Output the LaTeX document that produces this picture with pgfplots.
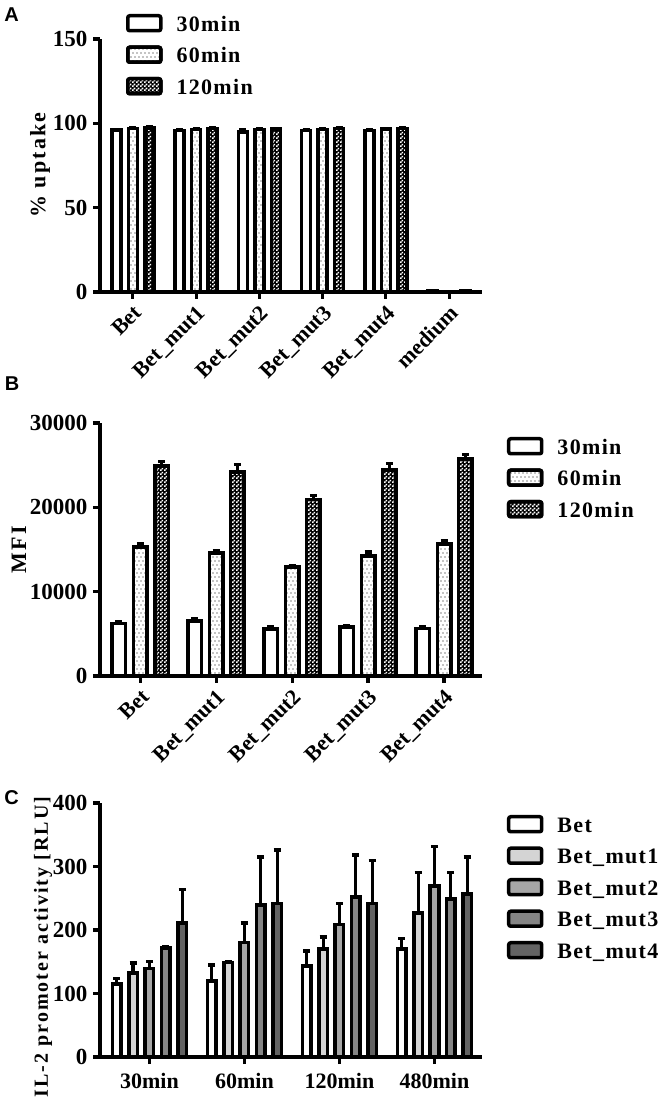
\documentclass[border=0pt]{standalone}
\usepackage{pgfplots}
\usepackage{pgfplotstable}
\pgfplotsset{compat=1.18}
\usepackage{fontspec}
\setmainfont{Liberation Serif}
\newfontfamily\lsp{Liberation Serif}[LetterSpace=6]
\newfontfamily\ylsp{Liberation Serif}[LetterSpace=10]
\newfontfamily\arialfont{Liberation Sans}
\usetikzlibrary{patterns}

\pgfdeclarepatternformonly{sparsedots}{\pgfqpoint{-1pt}{-1pt}}{\pgfqpoint{5pt}{9pt}}{\pgfqpoint{4pt}{8pt}}{%
 \pgfpathcircle{\pgfqpoint{1pt}{2pt}}{0.55pt}\pgfpathcircle{\pgfqpoint{3pt}{6pt}}{0.55pt}\pgfusepath{fill}}
\pgfdeclarepatternformonly{checker}{\pgfpointorigin}{\pgfqpoint{4pt}{4pt}}{\pgfqpoint{4pt}{4pt}}{%
 \pgfpathrectangle{\pgfpointorigin}{\pgfqpoint{2pt}{2pt}}\pgfpathrectangle{\pgfqpoint{2pt}{2pt}}{\pgfqpoint{2pt}{2pt}}\pgfusepath{fill}}

\definecolor{gA}{HTML}{D4D4D4}
\definecolor{gB}{HTML}{A6A6A6}
\definecolor{gC}{HTML}{858585}
\definecolor{gD}{HTML}{636363}

\pgfplotsset{
 panel/.style={
  scale only axis, width=382pt,
  axis lines=left, axis line style={-, line width=3.2pt},
  tick align=outside, major tick length=7pt, tick style={line width=3.2pt, black},
  ymin=0,
  yticklabel style={font=\fontsize{23}{27}\selectfont\bfseries, xshift=-2pt},
  xticklabel style={font=\fontsize{22}{26}\selectfont\bfseries},
  /pgf/number format/assume math mode=true,
  /pgf/number format/1000 sep={},
  legend cell align=left,
  legend style={draw=none, fill=none, inner sep=0pt, outer sep=0pt,
    font=\lsp\bfseries\fontsize{22}{26}\selectfont, row sep=13pt, column sep=14pt,
    nodes={inner sep=0pt, text height=16pt, text depth=0pt}},
 },
 bar/.style={ybar, bar shift=0pt, draw=black, line width=3.5pt,
  legend image code/.code={\draw[##1, line width=3.5pt, rounded corners=2pt] (0pt,-7.5pt) rectangle (33pt,7.5pt);},
  error bars/y dir=plus, error bars/y explicit,
  error bars/error bar style={line width=3.2pt, black},
  error bars/error mark options={rotate=90, mark size=3.5pt, line width=3.2pt, black}},
 dotted bar/.style={fill=white, postaction={pattern=sparsedots}},
 checker bar/.style={fill=black, postaction={pattern=checker, pattern color=white}},
}

% Panel A: % uptake
\pgfplotstableread{
x y e
0 96.0 0.4
1 95.8 0.4
2 95.0 1.0
3 95.8 0.4
4 95.8 0.4
5 0.6 0.3
}\Aa
\pgfplotstableread{
x y e
0 97.0 0.4
1 96.3 0.4
2 96.3 0.4
3 96.3 0.4
4 96.5 0.4
5 0.3 0.2
}\Ab
\pgfplotstableread{
x y e
0 97.3 0.5
1 96.8 0.5
2 96.5 0.4
3 96.8 0.4
4 96.8 0.5
5 0.5 0.3
}\Ac

% Panel B: MFI
\pgfplotstableread{
x y e
0 6200 200
1 6500 300
2 5550 250
3 5800 150
4 5650 200
}\Ba
\pgfplotstableread{
x y e
0 15300 450
1 14600 250
2 12900 150
3 14250 450
4 15650 400
}\Bb
\pgfplotstableread{
x y e
0 24900 500
1 24200 900
2 20950 500
3 24450 700
4 25750 500
}\Bc

% Panel C: IL-2 promoter activity
\pgfplotstableread{
x y e
0 115 8
1 120 25
2 143 24
3 170 16
}\Ca
\pgfplotstableread{
x y e
0 132 16
1 149 2
2 170 19
3 227 63
}\Cb
\pgfplotstableread{
x y e
0 139 11
1 180 31
2 209 33
3 269 63
}\Cc
\pgfplotstableread{
x y e
0 172 2
1 239 76
2 252 66
3 249 42
}\Cd
\pgfplotstableread{
x y e
0 211 53
1 242 84
2 242 67
3 257 58
}\Ce

\begin{document}
\begin{tikzpicture}
\useasboundingbox (0pt,0pt) rectangle (658pt,1103pt);

\node[font=\arialfont\bfseries\fontsize{20}{24}\selectfont] at (11.5pt,1088pt) {A};
\node[font=\arialfont\bfseries\fontsize{20}{24}\selectfont] at (12pt,719pt) {B};
\node[font=\arialfont\bfseries\fontsize{20}{24}\selectfont] at (11.5pt,305pt) {C};

% ---------- A ----------
\begin{axis}[panel, at={(100pt,811pt)}, anchor=south west, height=253pt,
  xmin=-0.52, xmax=5.52, ymax=150, ytick={0,50,100,150},
  xtick={0,...,5}, xticklabels={Bet,Bet\_mut1,Bet\_mut2,Bet\_mut3,Bet\_mut4,medium},
  xticklabel style={rotate=45, anchor=north east},
  ylabel={\%~uptake},
  ylabel style={at={(axis description cs:-0.157,0.502)}, anchor=center, font=\ylsp\bfseries\fontsize{22}{26}\selectfont},
  legend style={at={(0.0681,1.0988)}, anchor=north west},
]
\addplot[bar, fill=white, bar width=0.143] table[x expr=\thisrow{x}-0.262,y=y,y error=e]{\Aa};
\addlegendentry{30min}
\addplot[bar, dotted bar, bar width=0.143] table[x expr=\thisrow{x},y=y,y error=e]{\Ab};
\addlegendentry{60min}
\addplot[bar, checker bar, bar width=0.143] table[x expr=\thisrow{x}+0.262,y=y,y error=e]{\Ac};
\addlegendentry{120min}
\end{axis}

% ---------- B ----------
\begin{axis}[panel, at={(100pt,427pt)}, anchor=south west, height=253pt,
  xmin=-0.53, xmax=4.5, ymax=30000, ytick={0,10000,20000,30000},
  scaled y ticks=false,
  xtick={0,...,4}, xticklabels={Bet,Bet\_mut1,Bet\_mut2,Bet\_mut3,Bet\_mut4},
  xticklabel style={rotate=45, anchor=north east},
  ylabel={MFI},
  ylabel style={at={(axis description cs:-0.212,0.498)}, anchor=center, font=\ylsp\bfseries\fontsize{22}{26}\selectfont},
  legend style={at={(1.0654,0.9447)}, anchor=north west},
]
\addplot[bar, fill=white, bar width=0.178] table[x expr=\thisrow{x}-0.28,y=y,y error=e]{\Ba};
\addlegendentry{30min}
\addplot[bar, dotted bar, bar width=0.178] table[x expr=\thisrow{x},y=y,y error=e]{\Bb};
\addlegendentry{60min}
\addplot[bar, checker bar, bar width=0.178] table[x expr=\thisrow{x}+0.28,y=y,y error=e]{\Bc};
\addlegendentry{120min}
\end{axis}

% ---------- C ----------
\begin{axis}[panel, at={(100pt,46pt)}, anchor=south west, height=254pt,
  xmin=-0.52, xmax=3.5, ymax=400, ytick={0,100,...,400},
  xtick={0,...,3}, xticklabels={30min,60min,120min,480min},
  xticklabel style={yshift=-6pt},
  ylabel={IL-2 promoter activity [RLU]},
  ylabel style={at={(axis description cs:-0.149,0.433)}, anchor=center, font=\ylsp\bfseries\fontsize{20}{24}\selectfont},
  legend style={at={(1.0654,0.9528)}, anchor=north west},
]
\addplot[bar, fill=white, bar width=0.09] table[x expr=\thisrow{x}-0.344,y=y,y error=e]{\Ca};
\addlegendentry{Bet}
\addplot[bar, fill=gA, bar width=0.09] table[x expr=\thisrow{x}-0.172,y=y,y error=e]{\Cb};
\addlegendentry{Bet\_mut1}
\addplot[bar, fill=gB, bar width=0.09] table[x expr=\thisrow{x},y=y,y error=e]{\Cc};
\addlegendentry{Bet\_mut2}
\addplot[bar, fill=gC, bar width=0.09] table[x expr=\thisrow{x}+0.172,y=y,y error=e]{\Cd};
\addlegendentry{Bet\_mut3}
\addplot[bar, fill=gD, bar width=0.09] table[x expr=\thisrow{x}+0.344,y=y,y error=e]{\Ce};
\addlegendentry{Bet\_mut4}
\end{axis}
\end{tikzpicture}
\end{document}
